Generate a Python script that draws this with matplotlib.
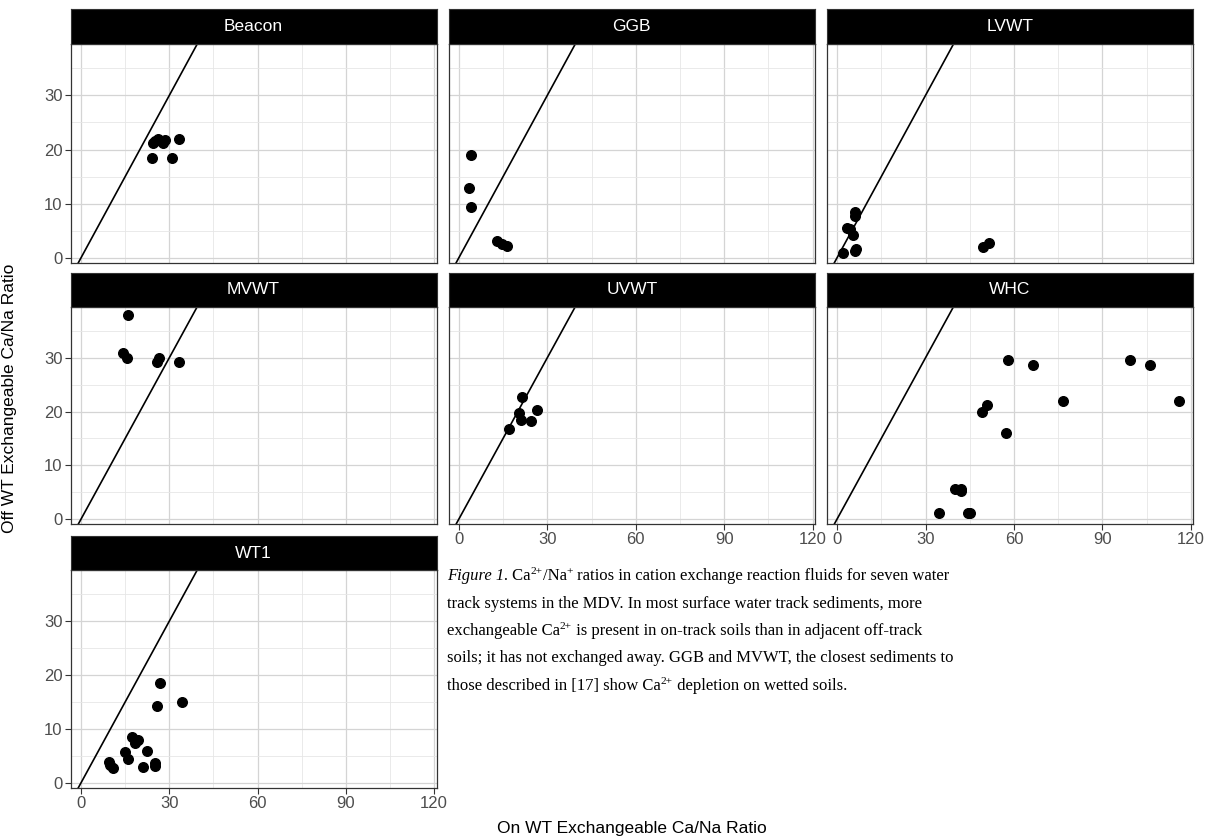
import numpy as np
import matplotlib.pyplot as plt
from matplotlib.ticker import MultipleLocator

plt.rcParams['font.family'] = ['Liberation Sans', 'DejaVu Sans']

# On WT (x) / Off WT (y) exchangeable Ca/Na ratios
beacon_x = [24.4, 25.3, 26.3, 27.8, 24.0, 30.8, 33.4, 28.5]
beacon_y = [21.3, 21.6, 21.9, 21.3, 18.4, 18.4, 21.9, 21.8]
ggb_x = [4.0, 3.5, 4.0, 12.8, 14.5, 16.2]
ggb_y = [19.0, 12.9, 9.4, 3.2, 2.5, 2.2]
lvwt_x = [6.1, 6.1, 3.4, 4.5, 5.3, 1.9, 6.0, 6.5, 49.4, 51.6]
lvwt_y = [8.5, 7.8, 5.6, 5.3, 4.3, 0.8, 1.2, 1.6, 2.0, 2.8]
mvwt_x = [15.9, 14.2, 15.7, 25.9, 26.6, 33.3]
mvwt_y = [38.0, 30.8, 30.0, 29.2, 30.0, 29.3]
uvwt_x = [21.5, 20.5, 21.1, 24.4, 26.6, 17.1]
uvwt_y = [22.8, 19.7, 18.4, 18.3, 20.3, 16.7]
whc_x = [58.0, 66.5, 99.4, 106.2, 76.6, 115.9, 51.0, 49.1, 57.3, 40.0, 42.0, 42.0, 34.6, 44.3, 45.0]
whc_y = [29.5, 28.6, 29.5, 28.6, 21.9, 21.9, 21.3, 20.0, 16.1, 5.6, 5.6, 5.2, 1.1, 1.1, 1.1]
wt1_x = [26.9, 25.8, 34.2, 17.2, 19.5, 18.3, 22.4, 15.1, 16.1, 9.5, 10.0, 11.0, 21.1, 25.2, 25.2]
wt1_y = [18.6, 14.3, 15.0, 8.5, 7.9, 7.4, 6.0, 5.8, 4.4, 3.9, 3.4, 2.8, 3.0, 3.7, 3.1]

sites = ['Beacon', 'GGB', 'LVWT', 'MVWT', 'UVWT', 'WHC', 'WT1']
xs = [beacon_x, ggb_x, lvwt_x, mvwt_x, uvwt_x, whc_x, wt1_x]
ys = [beacon_y, ggb_y, lvwt_y, mvwt_y, uvwt_y, whc_y, wt1_y]

# caption lines as (text, kind) pieces: n = normal, i = italic, s = superscript
caption = [
    [('Figure 1.', 'i'), (' Ca', 'n'), ('2+', 's'), ('/Na', 'n'), ('+', 's'),
     (' ratios in cation exchange reaction fluids for seven water', 'n')],
    [('track systems in the MDV. In most surface water track sediments, more', 'n')],
    [('exchangeable Ca', 'n'), ('2+', 's'),
     (' is present in on-track soils than in adjacent off-track', 'n')],
    [('soils; it has not exchanged away. GGB and MVWT, the closest sediments to', 'n')],
    [('those described in [17] show Ca', 'n'), ('2+', 's'), (' depletion on wetted soils.', 'n')],
]

W, H = 1209, 839
fig = plt.figure(figsize=(W / 100, H / 100), dpi=100)

cols = [(70.7, 436.5), (448.5, 815.0), (826.7, 1193.3)]
rows = [(9.3, 44.0, 262.7), (272.7, 306.7, 524.0), (536.0, 570.0, 787.7)]

def box(l, t, r, b):
    return [l / W, 1 - b / H, (r - l) / W, (b - t) / H]

line_x = np.array([-10, 130])

for i, name in enumerate(sites):
    r, c = divmod(i, 3)
    l, rr = cols[c]
    st, pt, pb = rows[r]
    ax = fig.add_axes(box(l, pt, rr, pb))
    ax.set_xlim(-3.5, 120.8)
    ax.set_ylim(-0.9, 39.5)
    ax.xaxis.set_major_locator(MultipleLocator(30))
    ax.xaxis.set_minor_locator(MultipleLocator(15))
    ax.yaxis.set_major_locator(MultipleLocator(10))
    ax.yaxis.set_minor_locator(MultipleLocator(5))
    ax.grid(which='major', color='#d4d4d4', lw=0.9)
    ax.grid(which='minor', color='#e6e6e6', lw=0.6)
    ax.set_axisbelow(True)
    ax.plot(line_x, line_x, color='black', lw=1.2)
    ax.scatter(xs[i], ys[i], s=48, color='black', zorder=3)
    for sp in ax.spines.values():
        sp.set_color('#333333')
        sp.set_linewidth(0.9)
    ax.tick_params(which='minor', length=0)
    ax.tick_params(which='major', length=4, color='#333333', labelsize=12,
                   labelcolor='#4d4d4d', pad=2)
    show_x = (r == 2) or (r == 1 and c > 0)
    if not show_x:
        ax.tick_params(axis='x', which='major', length=0, labelbottom=False)
    if c != 0:
        ax.tick_params(axis='y', which='major', length=0, labelleft=False)

    sax = fig.add_axes(box(l, st, rr, pt))
    sax.set_facecolor('black')
    sax.set_xticks([])
    sax.set_yticks([])
    for sp in sax.spines.values():
        sp.set_color('#333333')
    sax.text(0.5, 0.5, name, color='white', fontsize=12.5,
             ha='center', va='center', transform=sax.transAxes)

fig.text(10 / W, 1 - 398 / H, 'Off WT Exchangeable Ca/Na Ratio', rotation=90,
         ha='center', va='center', fontsize=12.5)
fig.text(632 / W, 1 - 828 / H, 'On WT Exchangeable Ca/Na Ratio',
         ha='center', va='center', fontsize=12.5)

# caption, drawn piece by piece so italics and superscripts line up
renderer = fig.canvas.get_renderer()
fs = 12
for k, pieces in enumerate(caption):
    x = 447
    base = H - (580 + 27.5 * k)
    for txt, kind in pieces:
        if kind == 's':
            t = fig.text(x / W, (base + 6) / H, txt, fontsize=fs * 0.68,
                         family='Liberation Serif', va='baseline', ha='left')
        else:
            t = fig.text(x / W, base / H, txt, fontsize=fs,
                         family='Liberation Serif', va='baseline', ha='left',
                         style='italic' if kind == 'i' else 'normal')
        x += t.get_window_extent(renderer).width

fig.savefig('out.png', dpi=100)
